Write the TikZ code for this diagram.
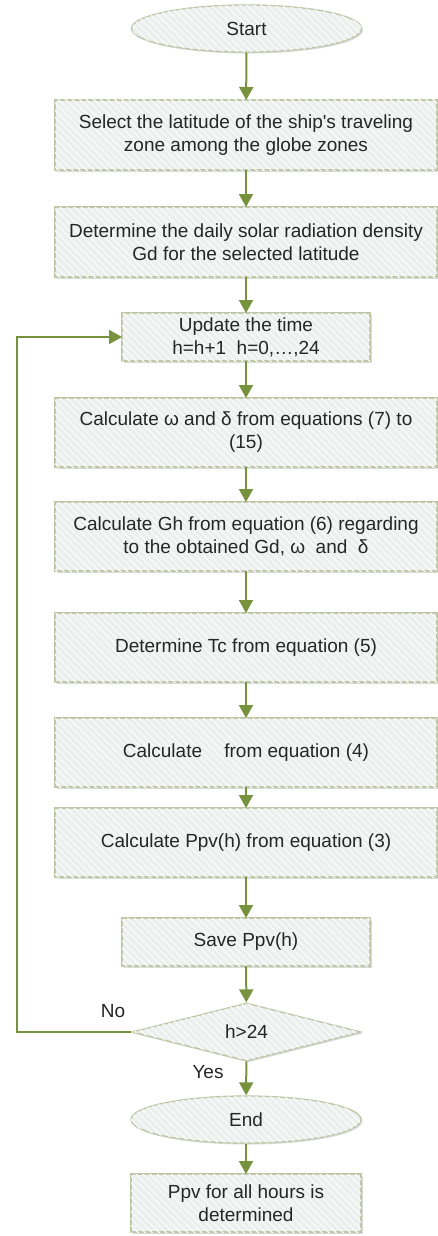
\documentclass[tikz,border=0pt]{standalone}
\usepackage{fontspec}
\setmainfont{Liberation Sans}
\usetikzlibrary{shapes.geometric,shadows,patterns.meta,arrows.meta}
\definecolor{arrowc}{HTML}{76923C}
\definecolor{borderc}{HTML}{BFC7A6}
\definecolor{boxfill}{HTML}{EDEFEF}
\tikzset{
  base/.style={draw=borderc, line width=1.3pt, fill=boxfill, align=center,
    font=\fontsize{19}{23}\selectfont, text=black!85, inner sep=0pt,
    drop shadow={shadow xshift=1.5pt, shadow yshift=-1.5pt, opacity=0.25, fill=black!60},
    postaction={pattern={Lines[angle=-45,distance=5pt,line width=1.3pt]}, pattern color=white!70!boxfill}},
  procbox/.style={base, rectangle, minimum width=#1, outer sep=0pt},
  term/.style={base, ellipse, minimum width=230pt, minimum height=47pt},
  decide/.style={base, diamond, minimum width=229pt, minimum height=58pt, aspect=3.9},
  arr/.style={draw=arrowc, line width=2pt, -{Triangle[width=14pt,length=13pt]}},
  lbl/.style={font=\fontsize{19}{23}\selectfont, text=black!85, inner sep=0pt}
}
\begin{document}
\begin{tikzpicture}[x=1pt,y=-1pt]
\useasboundingbox (0,0) rectangle (438,1236);
\node[term] (start) at (246.5,28.5) {Start};
\node[procbox=382pt, minimum height=70pt] (b1) at (246,135) {Select the latitude of the ship\textquotesingle s traveling\\zone among the globe zones};
\node[procbox=382pt, minimum height=70pt] (b2) at (246,242) {Determine the daily solar radiation density\\Gd for the selected latitude};
\node[procbox=248pt, minimum height=48pt] (upd) at (246,337) {Update the time\\h=h+1\ \ h=0,…,24};
\node[procbox=382pt, minimum height=69pt] (b3) at (246,432.5) {Calculate ω and δ from equations (7) to\\(15)};
\node[procbox=382pt, minimum height=69pt] (b4) at (246,536.5) {Calculate Gh from equation (6) regarding\\to the obtained Gd, ω\ \ and\ \ δ};
\node[procbox=382pt, minimum height=69pt] (b5) at (246,647.5) {Determine Tc from equation (5)};
\node[procbox=382pt, minimum height=69pt] (b6) at (246,752.5) {Calculate\hspace{17pt} from equation (4)};
\node[procbox=382pt, minimum height=69pt] (b7) at (246,842.5) {Calculate Ppv(h) from equation (3)};
\node[procbox=248pt, minimum height=48pt] (save) at (246,942) {Save Ppv(h)};
\node[decide] (dia) at (246.5,1032) {h>24};
\node[term] (end) at (246,1119.5) {End};
\node[procbox=230pt, minimum height=58pt] (last) at (246,1203) {Ppv for all hours is\\determined};
\node[lbl] (no) at (113,1011) {No};
\node[lbl] (yes) at (208,1072) {Yes};
\coordinate (lp) at (17,1032);
\draw[arr] (start) -- (b1);
\draw[arr] (b1) -- (b2);
\draw[arr] (b2) -- (upd);
\draw[arr] (upd) -- (b3);
\draw[arr] (b3) -- (b4);
\draw[arr] (b4) -- (b5);
\draw[arr] (b5) -- (b6);
\draw[arr] (b6) -- (b7);
\draw[arr] (b7) -- (save);
\draw[arr] (save) -- (dia);
\draw[arr] (dia) -- (end);
\draw[arr] (end) -- (last);
\draw[arr] (dia.west) -- (lp) |- (upd.west);
\end{tikzpicture}
\end{document}
